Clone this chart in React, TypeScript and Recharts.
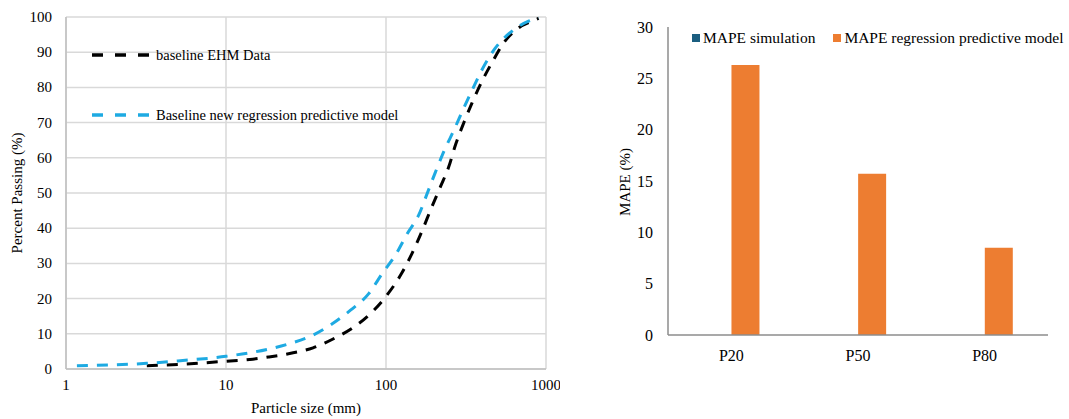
import React from 'react';
import {
  LineChart, Line, XAxis, YAxis, CartesianGrid, Legend,
  BarChart, Bar,
} from 'recharts';

const FONT = '"Liberation Serif", "Times New Roman", serif';

// Left chart: particle size distribution
const sizesEHM = [3.2, 5, 10, 14.7, 18.4, 25, 35, 47, 63, 82, 103, 125, 146, 169, 190, 219, 247, 272, 306, 345, 408, 471, 543, 674, 819, 900];
const passingEHM = [0.9, 1.3, 2.2, 2.8, 3.4, 4.4, 6.0, 8.6, 11.9, 16.2, 21.4, 27.1, 33, 39.5, 45.2, 51.8, 57.5, 63.7, 69.9, 75.6, 82.7, 87.9, 92.6, 96.9, 98.8, 99.6];
const sizesModel = [1.17, 2, 3.2, 5, 10, 18.2, 25, 34.5, 46.4, 60, 78, 94.6, 115, 136, 160, 181, 204, 230, 266, 306, 346, 398, 483, 614, 778, 900];
const passingModel = [0.9, 1.2, 1.6, 2.3, 3.6, 5.6, 7.2, 9.5, 12.9, 16.7, 21.4, 27.1, 32.5, 38.5, 43.7, 49.9, 56, 61.8, 67.9, 74.1, 79.3, 85, 91.2, 96, 98.8, 99.7];
const xTicks = [1, 10, 100, 1000];
const yTicks = [0, 10, 20, 30, 40, 50, 60, 70, 80, 90, 100];

// Right chart: MAPE
const categories = ['P20', 'P50', 'P80'];
const mapeSimulation = [0, 0, 0];
const mapeRegression = [26.3, 15.7, 8.5];
const mapeTicks = [0, 5, 10, 15, 20, 25, 30];

const ehmData = sizesEHM.map((x, i) => ({ x, y: passingEHM[i] }));
const modelData = sizesModel.map((x, i) => ({ x, y: passingModel[i] }));
const barData = categories.map((c, i) => ({ name: c, sim: mapeSimulation[i], reg: mapeRegression[i] }));

const BLACK = '#000000';
const BLUE = '#1EAAE2';
const TEAL = '#1B5E80';
const ORANGE = '#ED7D31';

const LeftLegend = () => (
  <div style={{ fontFamily: FONT, fontSize: 14.5, color: '#000' }}>
    {[
      { label: 'baseline EHM Data', color: BLACK },
      { label: 'Baseline new regression predictive model', color: BLUE },
    ].map((it, i) => (
      <div key={i} style={{ display: 'flex', alignItems: 'center', height: 20, marginBottom: i === 0 ? 40 : 0 }}>
        <svg width={62} height={8} style={{ marginRight: 4 }}>
          <line x1={2} y1={4} x2={60} y2={4} stroke={it.color} strokeWidth={3.5} strokeDasharray="11 12" />
        </svg>
        <span style={{ whiteSpace: 'nowrap' }}>{it.label}</span>
      </div>
    ))}
  </div>
);

const RightLegend = () => (
  <div style={{ fontFamily: FONT, fontSize: 15.5, color: '#000', display: 'flex', alignItems: 'center' }}>
    {[
      { label: 'MAPE simulation', color: TEAL },
      { label: 'MAPE regression predictive model', color: ORANGE },
    ].map((it, i) => (
      <div key={i} style={{ display: 'flex', alignItems: 'center', marginRight: i === 0 ? 18 : 0 }}>
        <div style={{ width: 8, height: 8, background: it.color, marginRight: 3 }} />
        <span style={{ whiteSpace: 'nowrap' }}>{it.label}</span>
      </div>
    ))}
  </div>
);

const rotatedLabel = (text: string, cx: number, cy: number, size: number) => () => (
  <text x={cx} y={cy} transform={`rotate(-90 ${cx} ${cy})`} textAnchor="middle" dominantBaseline="central"
    style={{ fontFamily: FONT, fontSize: size }} fill="#000">{text}</text>
);

const makeXTick = (dy: number, size: number) => (props: any) => (
  <text x={props.x} y={props.y + dy} textAnchor="middle" dominantBaseline="central"
    style={{ fontFamily: FONT, fontSize: size }} fill="#000">{props.payload.value}</text>
);
const makeYTick = (gap: number, size: number) => (props: any) => (
  <text x={props.x - gap} y={props.y} textAnchor="end" dominantBaseline="central"
    style={{ fontFamily: FONT, fontSize: size }} fill="#000">{props.payload.value}</text>
);

export default function App() {
  return (
    <div style={{ position: 'absolute', left: 0, top: 0, width: 1069, height: 419, background: '#fff', fontFamily: FONT }}>
      <div style={{ position: 'absolute', left: 0, top: 0 }}>
        <LineChart width={560} height={419} margin={{ top: 17, right: 14, bottom: 20, left: 0 }}>
          <CartesianGrid stroke="#D9D9D9" strokeWidth={1.5} />
          <XAxis
            dataKey="x" type="number" scale="log" domain={[1, 1000]} ticks={xTicks} allowDataOverflow
            tickLine={false} tickSize={0} stroke="#BFBFBF" strokeWidth={1.5} tick={makeXTick(14, 15)} interval={0}
            height={30}
            label={{ content: () => (
              <text x={306} y={408} textAnchor="middle" dominantBaseline="central" style={{ fontFamily: FONT, fontSize: 15 }} fill="#000">Particle size (mm)</text>
            ) }}
          />
          <YAxis
            type="number" domain={[0, 100]} ticks={yTicks} width={66} tickLine={false} tickSize={0}
            stroke="#BFBFBF" strokeWidth={1.5} tick={makeYTick(12, 15)} interval={0}
            label={{ content: rotatedLabel('Percent Passing (%)', 17, 193, 15) }}
          />
          <Legend content={<LeftLegend />} layout="horizontal" verticalAlign="middle" align="center"
            wrapperStyle={{ left: 90, top: 45, width: 'auto', height: 'auto' }} />
          <Line data={ehmData} dataKey="y" type="monotone" stroke={BLACK} strokeWidth={3} strokeDasharray="11 9"
            dot={false} isAnimationActive={false} />
          <Line data={modelData} dataKey="y" type="monotone" stroke={BLUE} strokeWidth={3} strokeDasharray="11 9"
            dot={false} isAnimationActive={false} />
        </LineChart>
      </div>
      <div style={{ position: 'absolute', left: 600, top: 0 }}>
        <BarChart width={469} height={419} data={barData} margin={{ top: 27, right: 21, bottom: 54, left: 0 }}
          barGap={0} barCategoryGap="28%">
          <XAxis dataKey="name" tickLine={false} tickSize={0} stroke="#8C8C8C" strokeWidth={1.5} tick={makeXTick(18, 16)} height={30} />
          <YAxis type="number" domain={[0, 30]} ticks={mapeTicks} width={68} tickLine={false} tickSize={0}
            stroke="#8C8C8C" strokeWidth={1.5} tick={makeYTick(13, 16)} interval={0}
            label={{ content: rotatedLabel('MAPE (%)', 25, 182, 15) }} />
          <Legend content={<RightLegend />} layout="horizontal" verticalAlign="middle" align="center"
            wrapperStyle={{ left: 92, top: 29, width: 'auto', height: 'auto' }} />
          <Bar dataKey="sim" fill={TEAL} isAnimationActive={false} />
          <Bar dataKey="reg" fill={ORANGE} isAnimationActive={false} />
        </BarChart>
      </div>
    </div>
  );
}
